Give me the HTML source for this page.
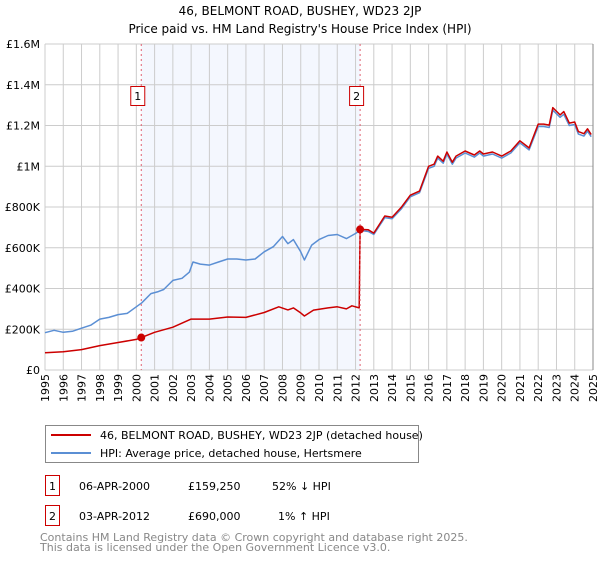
<!DOCTYPE html>
<html><head><meta charset="utf-8"><style>
body{margin:0;background:#fff;font-family:"DejaVu Sans","Liberation Sans",sans-serif;}
</style></head><body>
<svg width="600" height="560" xmlns="http://www.w3.org/2000/svg" font-family="DejaVu Sans, Liberation Sans, sans-serif">
<text x="300" y="15" text-anchor="middle" font-size="12">46, BELMONT ROAD, BUSHEY, WD23 2JP</text>
<text x="300" y="33" text-anchor="middle" font-size="12">Price paid vs. HM Land Registry's House Price Index (HPI)</text>
<g id="plot"></g>
<g>
<rect x="45.5" y="425.5" width="373" height="37" fill="#fff" stroke="#888"/>
<line x1="51" y1="435" x2="91" y2="435" stroke="#cc0000" stroke-width="2"/>
<text x="100" y="439" font-size="11">46, BELMONT ROAD, BUSHEY, WD23 2JP (detached house)</text>
<line x1="51" y1="453" x2="91" y2="453" stroke="#5b8fd4" stroke-width="2"/>
<text x="100" y="457" font-size="11">HPI: Average price, detached house, Hertsmere</text>
</g>
<g font-size="11">
<rect x="45.5" y="475.5" width="14" height="20" fill="none" stroke="#cc0000"/>
<text x="52.5" y="490" text-anchor="middle">1</text>
<text x="79" y="490">06-APR-2000</text><text x="188" y="490">£159,250</text><text x="272" y="490">52% ↓ HPI</text>
<rect x="45.5" y="505.5" width="14" height="20" fill="none" stroke="#cc0000"/>
<text x="52.5" y="520" text-anchor="middle">2</text>
<text x="79" y="520">03-APR-2012</text><text x="188" y="520">£690,000</text><text x="278" y="520">1% ↑ HPI</text>
</g>
<text x="40" y="541" font-size="11" fill="#888">Contains HM Land Registry data © Crown copyright and database right 2025.</text>
<text x="40" y="551" font-size="11" fill="#888">This data is licensed under the Open Government Licence v3.0.</text>
</svg>
<script>
const yTicks=[0,200000,400000,600000,800000,1000000,1200000,1400000,1600000];
const yTickLabels=["£0","£200K","£400K","£600K","£800K","£1M","£1.2M","£1.4M","£1.6M"];
const xYears=[1995,1996,1997,1998,1999,2000,2001,2002,2003,2004,2005,2006,2007,2008,2009,2010,2011,2012,2013,2014,2015,2016,2017,2018,2019,2020,2021,2022,2023,2024,2025];
const hpiT=[1995,1995.5,1996,1996.5,1997,1997.5,1998,1998.5,1999,1999.5,2000,2000.3,2000.8,2001.2,2001.5,2002,2002.5,2002.9,2003.1,2003.5,2004,2004.5,2005,2005.5,2006,2006.5,2007,2007.5,2008,2008.3,2008.6,2009,2009.2,2009.6,2010,2010.5,2011,2011.5,2012,2012.25,2012.7,2013,2013.6,2014,2014.5,2015,2015.5,2016,2016.3,2016.5,2016.8,2017,2017.3,2017.5,2018,2018.5,2018.8,2019,2019.5,2020,2020.5,2021,2021.5,2022,2022.3,2022.6,2022.8,2023.2,2023.4,2023.7,2024,2024.2,2024.5,2024.7,2024.9];
const hpiV=[183000,195000,185000,190000,205000,220000,250000,258000,272000,278000,310000,330000,375000,385000,395000,440000,450000,480000,530000,520000,515000,530000,545000,545000,540000,545000,580000,605000,655000,620000,640000,580000,540000,613000,640000,660000,665000,645000,670000,685000,680000,665000,748000,742000,790000,850000,870000,990000,1000000,1040000,1015000,1060000,1010000,1040000,1065000,1045000,1065000,1050000,1060000,1040000,1065000,1115000,1080000,1195000,1195000,1190000,1275000,1240000,1255000,1200000,1205000,1158000,1148000,1172000,1145000];
const redT=[1995,1996,1997,1998,1999,2000,2000.27,2001,2002,2003,2004,2005,2006,2007,2007.8,2008.3,2008.6,2009,2009.2,2009.7,2010.5,2011,2011.5,2011.8,2012.2,2012.25,2012.7,2013,2013.6,2014,2014.5,2015,2015.5,2016,2016.3,2016.5,2016.8,2017,2017.3,2017.5,2018,2018.5,2018.8,2019,2019.5,2020,2020.5,2021,2021.5,2022,2022.3,2022.6,2022.8,2023.2,2023.4,2023.7,2024,2024.2,2024.5,2024.7,2024.9];
const redV=[85000,90000,100000,120000,135000,150000,159250,185000,210000,250000,250000,260000,258000,282000,310000,295000,305000,280000,265000,294000,305000,310000,300000,315000,305000,690000,688000,672000,756000,750000,798000,858000,878000,1000000,1010000,1050000,1025000,1070000,1020000,1050000,1075000,1055000,1075000,1060000,1070000,1050000,1075000,1125000,1090000,1207000,1207000,1202000,1288000,1252000,1268000,1212000,1217000,1170000,1160000,1184000,1156000];
const sales=[{t:2000.27,v:159250,label:"1"},{t:2012.25,v:690000,label:"2"}];
const NS="http://www.w3.org/2000/svg";
const X0=45,X1=593,Y0=370,Y1=44;
const xs=t=>X0+(t-1995)/30*(X1-X0);
const ys=v=>Y0-v/1600000*(Y0-Y1);
const g=document.getElementById('plot');
function el(tag,attrs,parent){const e=document.createElementNS(NS,tag);for(const k in attrs)e.setAttribute(k,attrs[k]);(parent||g).appendChild(e);return e;}
const shade=el('rect',{x:xs(sales[0].t),y:Y1,width:xs(sales[1].t)-xs(sales[0].t),height:Y0-Y1,fill:'#f4f7fe'});


yTicks.forEach((v,i)=>{
 const l=el('line',{x1:X0,x2:X1,y1:ys(v),y2:ys(v),stroke:'#ccc'});
 
 
 const t=el('text',{x:40,y:ys(v)+4,'text-anchor':'end','font-size':11});
 t.textContent=yTickLabels[i];
 
 
});
xYears.forEach(y=>{
 const l=el('line',{x1:xs(y),x2:xs(y),y1:Y1,y2:Y0,stroke:'#ccc'});
 
 
 const t=el('text',{x:0,y:0,'text-anchor':'end','font-size':11,transform:`translate(${xs(y)+4},374) rotate(-90)`});
 t.textContent=y;
 
 
});
const rb=el('line',{x1:X1,x2:X1,y1:Y1,y2:Y0,stroke:'#888'});


function path(T,V,color,name){
 const d=T.map((t,i)=>(i?'L':'M')+xs(t).toFixed(1)+','+ys(V[i]).toFixed(1)).join('');
 const p=el('path',{d:d,fill:'none',stroke:color,'stroke-width':1.5,'stroke-linejoin':'round'});
 
 
}
path(hpiT,hpiV,'#5b8fd4','hpi-line');
path(redT,redV,'#cc0000','price-paid-line');
sales.forEach(s=>{
 const x=xs(s.t);
 const l=el('line',{x1:x,x2:x,y1:Y1,y2:Y0,stroke:'#e06070','stroke-dasharray':'2,3'});
 
 
 const d=el('circle',{cx:x,cy:ys(s.v),r:4,fill:'#cc0000'});
 
 
 const b=el('rect',{x:x-10.5,y:86.5,width:14,height:19,fill:'#fff',stroke:'#cc0000'});
 
 
 const t=el('text',{x:x-3.5,y:100,'text-anchor':'middle','font-size':11});
 t.textContent=s.label;
 
 
});
</script>
</body></html>
